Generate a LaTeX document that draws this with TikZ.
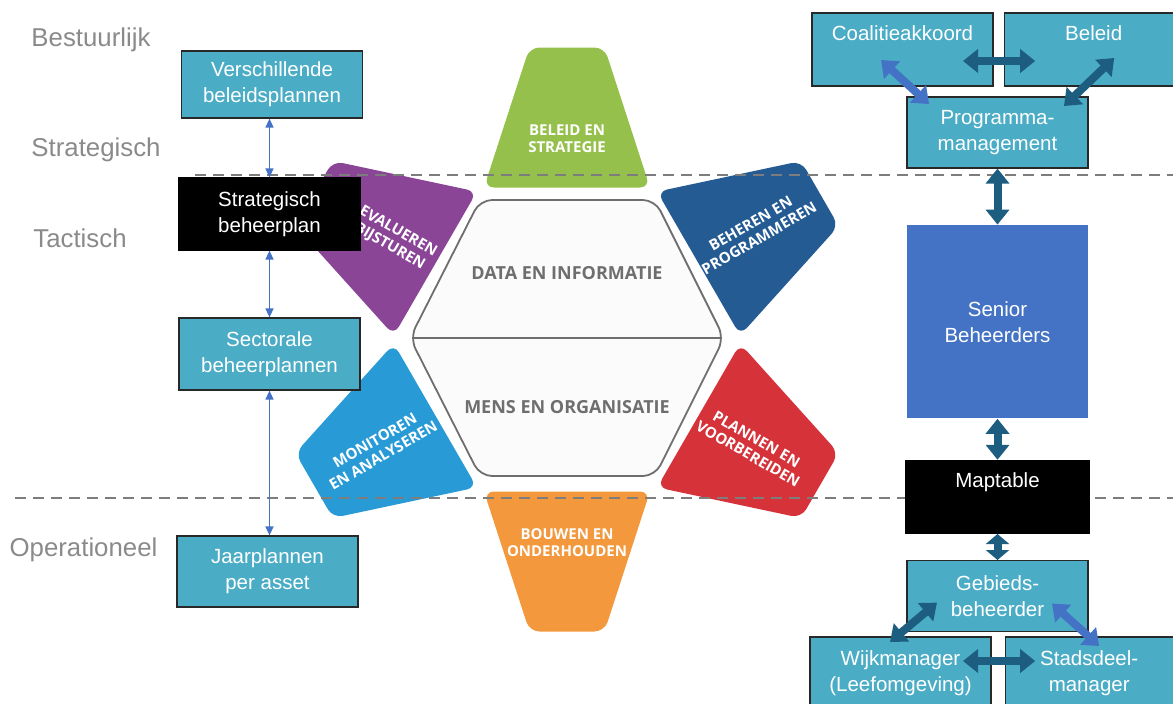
\documentclass[tikz,border=0pt]{standalone}
\usepackage{fontspec}
\setmainfont{Liberation Sans}
\newfontfamily\cyclefont{Open Sans}
\usetikzlibrary{arrows.meta,positioning}

\definecolor{boxteal}{RGB}{75,172,198}
\definecolor{boxline}{RGB}{40,40,40}
\definecolor{arrowdark}{RGB}{28,93,128}
\definecolor{arrowblue}{RGB}{68,114,196}
\definecolor{levelgray}{RGB}{138,138,138}
\definecolor{dashgray}{RGB}{125,125,125}
\definecolor{hexgray}{RGB}{110,110,110}
\definecolor{hexfill}{RGB}{251,251,251}
\definecolor{cycgreen}{RGB}{150,192,76}
\definecolor{cycblue}{RGB}{36,91,147}
\definecolor{cycred}{RGB}{213,50,58}
\definecolor{cycorange}{RGB}{243,152,61}
\definecolor{cyccyan}{RGB}{40,155,215}
\definecolor{cycpurple}{RGB}{138,69,151}

\begin{document}
\begin{tikzpicture}[x=1pt,y=-1pt,
  box/.style={draw=boxline, line width=1.2pt, fill=boxteal, text=white, align=center,
    inner sep=0pt, minimum width=181pt, minimum height=72pt,
    font=\fontsize{20.5}{26}\selectfont},
  blackbox/.style={box, fill=black, draw=black},
  level/.style={text=levelgray, font=\fontsize{25.8}{30}\selectfont},
  segtext/.style={text=white, align=center, font=\cyclefont\bfseries\fontsize{15}{17}\selectfont},
  hextext/.style={text=hexgray, font=\cyclefont\bfseries\fontsize{18}{22}\selectfont},
  thinlink/.style={arrowblue, line width=1.3pt,
    {Triangle[width=8pt,length=9pt]}-{Triangle[width=8pt,length=9pt]}},
  fatlink/.style={line width=8pt,
    {Triangle[width=23pt,length=#1]}-{Triangle[width=23pt,length=#1]}},
  fatlink/.default=15pt,
  levelline/.style={dashgray, line width=2.5pt, dash pattern=on 11pt off 7pt}]

  \useasboundingbox (0,0) rectangle (1173,704);
  \clip (0,0) rectangle (1173,704);

  % cycle around the hexagon
  \foreach \ang/\col/\trot/\rad/\nm/\txt in {
      0/cycgreen/0/201/strategie/{BELEID EN\\STRATEGIE},
      -60/cycblue/30/217/programmeren/{BEHEREN EN\\PROGRAMMEREN},
      -120/cycred/-30/214/voorbereiden/{PLANNEN EN\\VOORBEREIDEN},
      180/cycorange/0/203/onderhouden/{BOUWEN EN\\ONDERHOUDEN},
      120/cyccyan/30/217/analyseren/{MONITOREN\\EN ANALYSEREN},
      60/cycpurple/-30/200/bijsturen/{EVALUEREN\\BIJSTUREN}} {
    \begin{scope}[shift={(567,339.5)}, rotate=\ang]
      \fill[\col, rounded corners=10pt] (-83,-152) -- (-37.5,-292) -- (37.5,-292) -- (83,-152) -- cycle;
      \node[segtext, rotate=\trot] (\nm) at (0,-\rad) {\txt};
    \end{scope}
  }

  \draw[hexgray, line width=1.8pt, fill=hexfill, rounded corners=12pt]
    (410,338) -- (480,200) -- (655,200) -- (724,338) -- (655,476) -- (480,476) -- cycle;
  \draw[hexgray, line width=1.8pt] (412,338) -- (722,338);
  \node[hextext] (data) at (567,273) {DATA EN INFORMATIE};
  \node[hextext] (mens) at (567,407) {MENS EN ORGANISATIE};

  % levels
  \draw[levelline] (195,175) -- (1173,175);
  \draw[levelline] (15,498) -- (1173,498);
  \node[level] (bestuur) at (91,40) {Bestuurlijk};
  \node[level] (strategisch) at (96,150) {Strategisch};
  \node[level] (tactisch) at (80,238) {Tactisch};
  \node[level] (operationeel) at (83.5,550) {Operationeel};

  % plannen links
  \node[box, minimum height=67pt] (verschil) at (272,84.5) {Verschillende\\beleidsplannen};
  \node[blackbox] (strat) at (269.5,214) {Strategisch\\beheerplan};
  \node[box] (sector) at (269.5,354) {Sectorale\\beheerplannen};
  \node[box, minimum height=71pt] (jaar) at (267.5,571.5) {Jaarplannen\\per asset};

  \draw[thinlink] (strat.north |- verschil.south) -- (strat.north);
  \draw[thinlink] (strat.south) -- (sector.north);
  \draw[thinlink] (sector.south) -- (sector.south |- jaar.north);

  % organisatie rechts
  \node[box, minimum height=73pt] (coal) at (902.5,49.5) {Coalitieakkoord\\\strut};
  \node[box, minimum height=73pt, minimum width=169pt] (beleid) [right=10pt of coal] {\hspace*{10pt}Beleid\\\strut};
  \node[box, minimum height=71pt] (prog) at (997.5,132.5) {Programma-\\management};
  \node[box, fill=arrowblue, draw=none, minimum height=193pt] (senior) [below=56pt of prog] {Senior\\Beheerders};
  \node[blackbox, minimum width=183pt, minimum height=73pt] (maptable) [below=41pt of senior] {Maptable\\\strut};
  \node[box, minimum height=71pt] (gebied) [below=26pt of maptable] {Gebieds-\\beheerder};
  \node[box] (wijk) at (900.5,673) {Wijkmanager\\(Leefomgeving)};
  \node[box, minimum width=168pt] (stads) [right=13pt of wijk] {Stadsdeel-\\manager};

  \draw[fatlink, arrowdark] ([shift={(60.5,11.5)}]coal.center) -- ([shift={(-53.5,11.5)}]beleid.center);
  \draw[fatlink, arrowblue] ([shift={(-21.5,10.5)}]coal.center) -- ([shift={(-68.5,-28.5)}]prog.center);
  \draw[fatlink, arrowdark] ([shift={(25.5,8.5)}]beleid.center) -- ([shift={(66.5,-26.5)}]prog.center);
  \draw[fatlink, arrowdark] (prog.south) -- (senior.north);
  \draw[fatlink, arrowdark] (senior.south) -- (maptable.north);
  \draw[fatlink=10pt, arrowdark] (maptable.south) -- (gebied.north);
  \draw[fatlink, arrowdark] ([shift={(-60.5,6.5)}]gebied.center) -- ([shift={(-10.5,-31)}]wijk.center);
  \draw[fatlink, arrowblue] ([shift={(54.5,7.5)}]gebied.center) -- ([shift={(10,-27)}]stads.center);
  \draw[fatlink, arrowdark] ([shift={(62.5,-12)}]wijk.center) -- ([shift={(-54,-12)}]stads.center);
\end{tikzpicture}
\end{document}
